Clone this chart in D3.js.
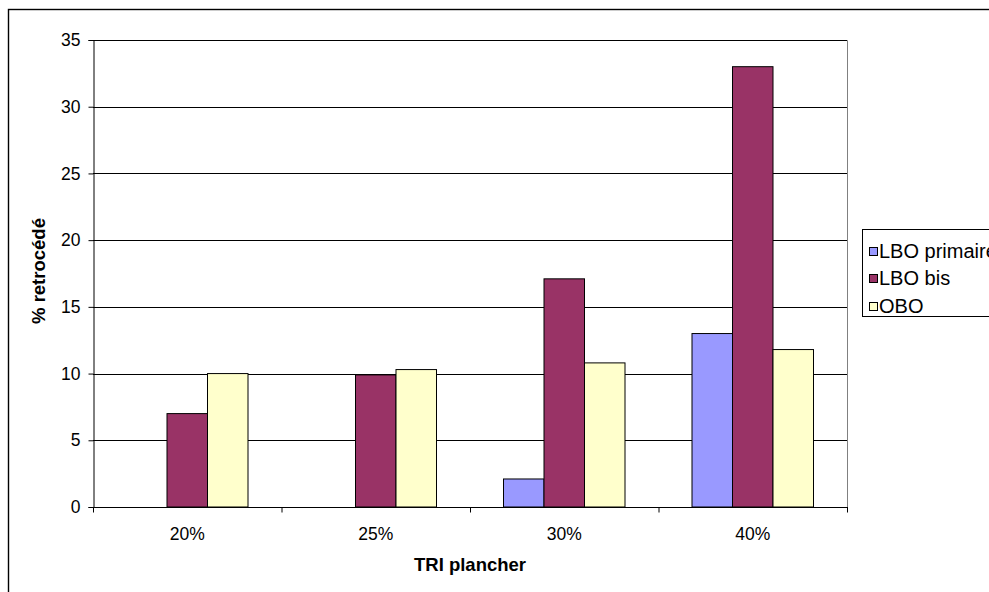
<!DOCTYPE html>
<html><head><meta charset="utf-8">
<script src="https://cdn.jsdelivr.net/npm/d3@7"></script>
<style>body{margin:0;background:#fff;}svg{display:block;font-family:"Liberation Sans",Arial,sans-serif;}</style>
</head><body><svg id="c" width="989" height="592"></svg>
<script>
const categories = ["20%", "25%", "30%", "40%"];
const seriesNames = ["LBO primaire", "LBO bis", "OBO"];
const lboPrimaire = [0, 0, 2.1, 13];
const lboBis = [7, 9.9, 17.1, 33];
const obo = [10, 10.3, 10.8, 11.8];
const yTicks = [0, 5, 10, 15, 20, 25, 30, 35];
const colors = ["#9999ff", "#993366", "#ffffcc"];

const series = [lboPrimaire, lboBis, obo];
const svg = d3.select("#c");
const L = 93, R = 847, T = 40, B = 507;

svg.append("rect").attr("x", 8.5).attr("y", 9.5).attr("width", 1000).attr("height", 600)
  .attr("fill", "#fff").attr("stroke", "#000").attr("stroke-width", 1.4);

const x = d3.scaleBand().domain(categories).range([L, R]);
const y = d3.scaleLinear().domain([0, 35]).range([B, T]);

// plot border (gray, right/top)
svg.append("path").attr("d", `M${L},${T+0.5}H${R+0.5}V${B}`).attr("fill", "none").attr("stroke", "#808080");

// gridlines
svg.append("g").selectAll("line").data(yTicks.filter(d => d > 0)).join("line")
  .attr("x1", L).attr("x2", R).attr("y1", d => Math.round(y(d)) + 0.5).attr("y2", d => Math.round(y(d)) + 0.5)
  .attr("stroke", "#000").attr("stroke-width", 1);

// bars
const bw = 40.5;
const inner = d3.scaleBand().domain(seriesNames).range([0, bw * 3]);
const g = svg.append("g");
categories.forEach((c, i) => {
  const x0 = x(c) + x.bandwidth() / 2 - bw * 1.5;
  series.forEach((s, j) => {
    if (s[i] <= 0) return;
    g.append("rect")
      .attr("x", x0 + inner(seriesNames[j]))
      .attr("y", y(s[i]))
      .attr("width", bw)
      .attr("height", y(0) - y(s[i]))
      .attr("fill", colors[j]).attr("stroke", "#000").attr("stroke-width", 1);
  });
});

// y axis
const yAxis = d3.axisLeft(y).tickValues(yTicks).tickSize(5).tickPadding(8);
const ya = svg.append("g").attr("transform", `translate(${L + 0.5},0)`).call(yAxis);
ya.select(".domain").attr("stroke", "#000");
ya.selectAll(".tick line").attr("stroke", "#000");
ya.selectAll("text").attr("font-size", 17.5).attr("fill", "#000").attr("font-family", "Liberation Sans, Arial, sans-serif");

// x axis
const xa = svg.append("g").attr("transform", `translate(0,${B + 0.5})`);
xa.append("line").attr("x1", L).attr("x2", R + 1).attr("y1", 0).attr("y2", 0).attr("stroke", "#000");
xa.selectAll("line.tk").data(d3.range(categories.length + 1)).join("line").attr("class", "tk")
  .attr("x1", i => L + 0.5 + i * x.step()).attr("x2", i => L + 0.5 + i * x.step())
  .attr("y1", 0).attr("y2", 5).attr("stroke", "#000");
xa.selectAll("text").data(categories).join("text")
  .attr("x", d => x(d) + x.bandwidth() / 2).attr("y", 32).attr("text-anchor", "middle")
  .attr("font-size", 17.5).text(d => d);

// axis titles
svg.append("text").attr("x", 470).attr("y", 571).attr("text-anchor", "middle")
  .attr("font-size", 18.5).attr("font-weight", "bold").text("TRI plancher");
svg.append("text").attr("transform", "translate(45,271) rotate(-90)").attr("text-anchor", "middle")
  .attr("font-size", 18.5).attr("font-weight", "bold").text("% retrocédé");

// legend
const lg = svg.append("g");
lg.append("rect").attr("x", 862.5).attr("y", 229.5).attr("width", 200).attr("height", 87)
  .attr("fill", "#fff").attr("stroke", "#000");
seriesNames.forEach((n, j) => {
  const yy = 250.5 + j * 27.5;
  lg.append("rect").attr("x", 869.5).attr("y", Math.round(yy - 4) + 0.5).attr("width", 8).attr("height", 8)
    .attr("fill", colors[j]).attr("stroke", "#000");
  lg.append("text").attr("x", 879).attr("y", yy + 7).attr("font-size", 20).text(n);
});
</script></body></html>
